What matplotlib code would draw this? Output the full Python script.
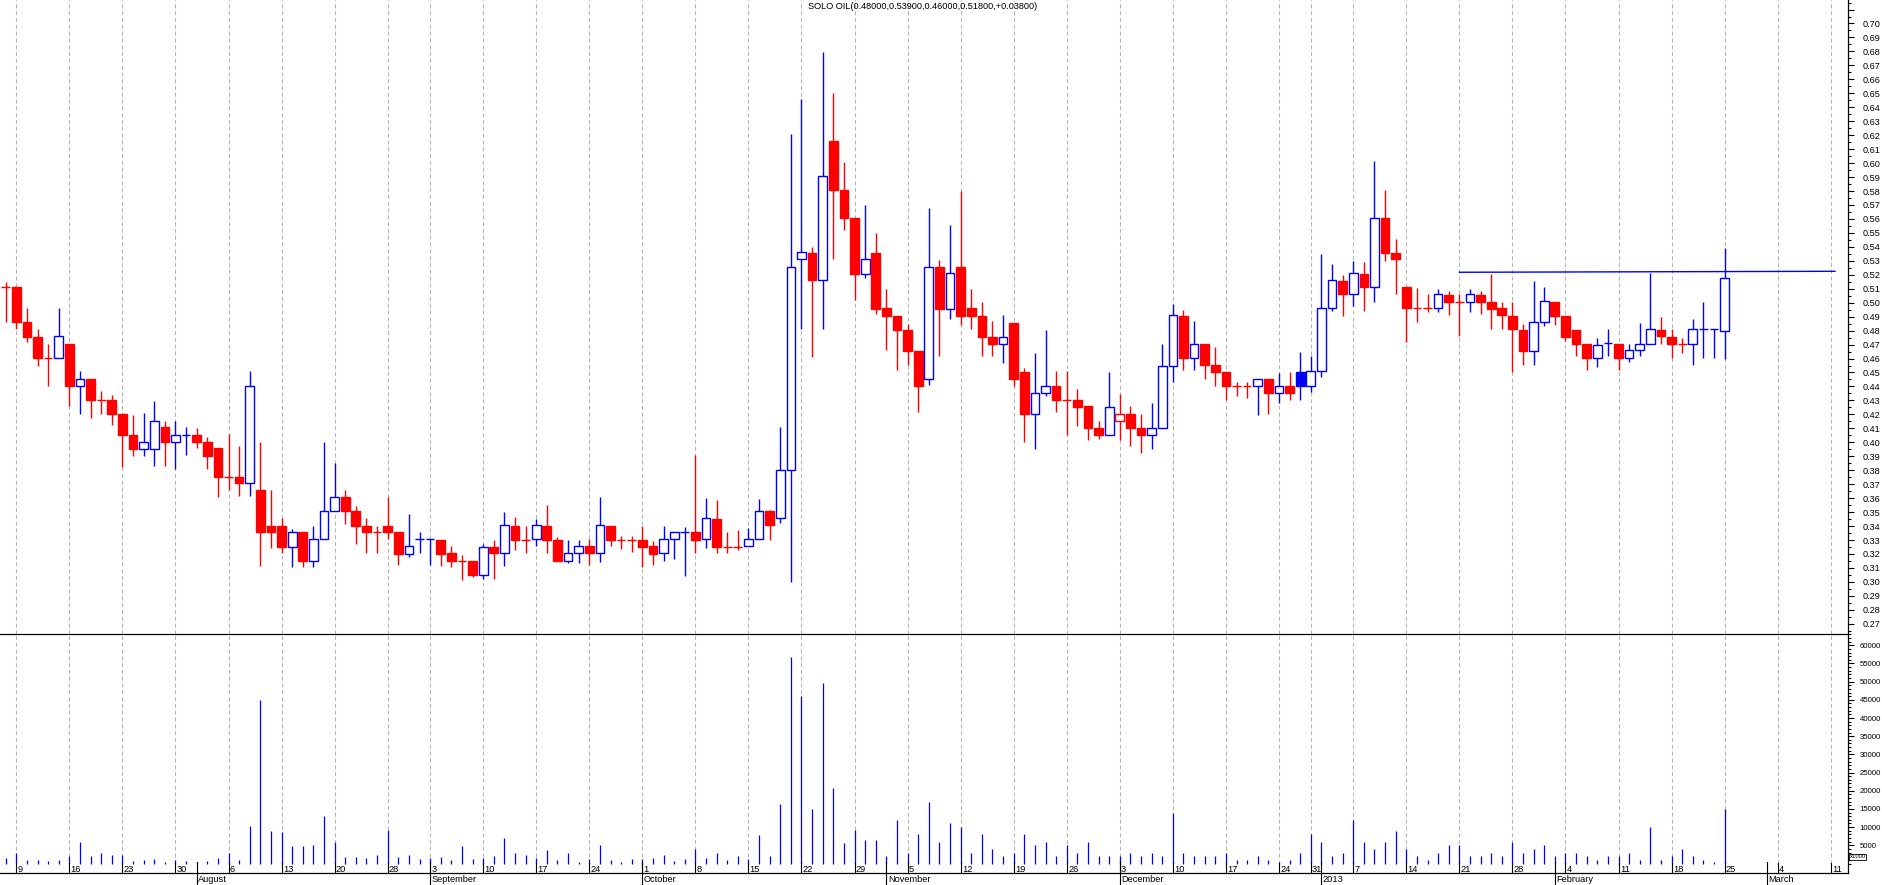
import matplotlib
matplotlib.use('Agg')
import matplotlib.pyplot as plt
import matplotlib.transforms as mtransforms
from matplotlib import font_manager as fm
from matplotlib.lines import Line2D
from matplotlib.patches import Rectangle
from matplotlib.ticker import FixedLocator, FuncFormatter
import numpy as np
import pandas as pd

plt.rcParams['font.family'] = ['Liberation Sans', 'DejaVu Sans']
plt.rcParams['lines.scale_dashes'] = False

TITLE = "SOLO OIL(0.48000,0.53900,0.46000,0.51800,+0.03800)"
HOLIDAYS = ['2012-08-27', '2012-12-25', '2012-12-26', '2013-01-01']
START = '2012-07-06'
AXIS_END = '2013-03-15'
MONTH_NAMES = ['January', 'February', 'March', 'April', 'May', 'June', 'July',
               'August', 'September', 'October', 'November', 'December']

opens = [
    0.5115, 0.5115, 0.486, 0.4755, 0.4605, 0.4605, 0.4705, 0.4405, 0.4455, 0.4305,
    0.4305, 0.4205, 0.4055, 0.3955, 0.3955, 0.411, 0.4005, 0.4055, 0.4055, 0.4005,
    0.396, 0.3755, 0.3755, 0.3705, 0.366, 0.340, 0.340, 0.325, 0.3355, 0.315,
    0.3305, 0.3505, 0.3605, 0.3505, 0.340, 0.3355, 0.340, 0.3355, 0.320, 0.3305,
    0.3305, 0.330, 0.3205, 0.315, 0.315, 0.305, 0.325, 0.3205, 0.340, 0.330,
    0.3305, 0.340, 0.330, 0.315, 0.3205, 0.3255, 0.3205, 0.340, 0.330, 0.330,
    0.330, 0.3255, 0.3205, 0.3305, 0.3355, 0.3355, 0.3305, 0.345, 0.325, 0.325,
    0.3255, 0.3305, 0.3505, 0.3455, 0.3805, 0.531, 0.5355, 0.516, 0.6155, 0.5805,
    0.5605, 0.5205, 0.5355, 0.496, 0.4905, 0.4805, 0.4655, 0.4455, 0.5255, 0.4955,
    0.5255, 0.496, 0.4905, 0.4755, 0.4705, 0.4855, 0.4505, 0.4205, 0.4355, 0.440,
    0.4305, 0.4305, 0.426, 0.4105, 0.4055, 0.4155, 0.4205, 0.4105, 0.4055, 0.4105,
    0.455, 0.4905, 0.4605, 0.4705, 0.4555, 0.4505, 0.4405, 0.4405, 0.440, 0.445,
    0.435, 0.440, 0.4505, 0.440, 0.451, 0.496, 0.5155, 0.506, 0.5205, 0.511,
    0.5605, 0.5355, 0.511, 0.496, 0.496, 0.496, 0.5055, 0.5005, 0.5005, 0.5055,
    0.5005, 0.496, 0.4905, 0.4805, 0.4655, 0.486, 0.5005, 0.4905, 0.4805, 0.4705,
    0.4605, 0.471, 0.4705, 0.4605, 0.466, 0.4705, 0.4805, 0.4755, 0.4705, 0.4705,
    0.481, 0.481, 0.480]

highs = [
    0.515, 0.5115, 0.496, 0.481, 0.4705, 0.496, 0.4705, 0.451, 0.4455, 0.4365,
    0.434, 0.4205, 0.4195, 0.421, 0.4295, 0.4155, 0.4155, 0.411, 0.410, 0.4035,
    0.396, 0.406, 0.397, 0.451, 0.400, 0.366, 0.346, 0.338, 0.3355, 0.340,
    0.400, 0.3855, 0.366, 0.3545, 0.346, 0.340, 0.361, 0.3355, 0.3485, 0.3355,
    0.3305, 0.330, 0.3255, 0.319, 0.315, 0.327, 0.330, 0.350, 0.3465, 0.340,
    0.345, 0.355, 0.332, 0.330, 0.330, 0.3305, 0.361, 0.340, 0.333, 0.333,
    0.340, 0.329, 0.340, 0.3355, 0.339, 0.391, 0.360, 0.3585, 0.3355, 0.337,
    0.3385, 0.3595, 0.3515, 0.411, 0.621, 0.646, 0.540, 0.6795, 0.650, 0.601,
    0.5605, 0.570, 0.550, 0.510, 0.4905, 0.4845, 0.4655, 0.568, 0.5305, 0.5555,
    0.580, 0.510, 0.5005, 0.487, 0.491, 0.4855, 0.453, 0.464, 0.4805, 0.451,
    0.451, 0.438, 0.426, 0.4155, 0.4505, 0.4345, 0.426, 0.4205, 0.428, 0.4705,
    0.499, 0.495, 0.487, 0.4705, 0.4685, 0.4505, 0.4435, 0.4435, 0.4455, 0.445,
    0.4495, 0.450, 0.465, 0.462, 0.535, 0.528, 0.520, 0.530, 0.5295, 0.6015,
    0.581, 0.5455, 0.511, 0.5105, 0.506, 0.510, 0.5085, 0.506, 0.5095, 0.5085,
    0.5205, 0.5005, 0.5005, 0.485, 0.5155, 0.511, 0.5005, 0.4905, 0.4805, 0.4705,
    0.4745, 0.481, 0.4705, 0.4705, 0.4855, 0.521, 0.490, 0.481, 0.475, 0.488,
    0.5005, 0.481, 0.539]

lows = [
    0.486, 0.481, 0.472, 0.455, 0.4405, 0.4605, 0.426, 0.4205, 0.4175, 0.4205,
    0.4125, 0.382, 0.3905, 0.3905, 0.383, 0.383, 0.381, 0.391, 0.396, 0.381,
    0.361, 0.366, 0.3615, 0.3615, 0.3115, 0.324, 0.321, 0.311, 0.311, 0.311,
    0.3305, 0.3505, 0.3415, 0.3275, 0.321, 0.321, 0.3305, 0.312, 0.3175, 0.321,
    0.312, 0.3115, 0.311, 0.3015, 0.3035, 0.302, 0.302, 0.3115, 0.3225, 0.321,
    0.326, 0.321, 0.315, 0.3135, 0.3135, 0.312, 0.3145, 0.326, 0.3235, 0.3215,
    0.311, 0.312, 0.315, 0.3165, 0.3045, 0.321, 0.324, 0.321, 0.321, 0.3225,
    0.3255, 0.3305, 0.330, 0.3425, 0.300, 0.4815, 0.461, 0.4815, 0.531, 0.552,
    0.502, 0.518, 0.492, 0.466, 0.452, 0.4555, 0.4215, 0.441, 0.462, 0.488,
    0.484, 0.481, 0.462, 0.462, 0.457, 0.4405, 0.400, 0.395, 0.4335, 0.4215,
    0.405, 0.412, 0.4015, 0.4025, 0.4055, 0.4015, 0.397, 0.3925, 0.395, 0.4105,
    0.4435, 0.4515, 0.452, 0.4455, 0.4405, 0.430, 0.4335, 0.4315, 0.4195, 0.420,
    0.4285, 0.430, 0.430, 0.436, 0.4465, 0.494, 0.4905, 0.4975, 0.494, 0.5005,
    0.530, 0.506, 0.4715, 0.4865, 0.493, 0.4935, 0.4915, 0.4765, 0.493, 0.492,
    0.481, 0.481, 0.4505, 0.4555, 0.4555, 0.483, 0.484, 0.4725, 0.462, 0.4515,
    0.454, 0.4615, 0.452, 0.4575, 0.462, 0.4705, 0.4705, 0.4605, 0.464, 0.4555,
    0.4605, 0.4605, 0.460]

closes = [
    0.5115, 0.486, 0.4755, 0.4605, 0.4605, 0.476, 0.4405, 0.4455, 0.4305, 0.4305,
    0.4205, 0.4055, 0.3955, 0.4005, 0.4155, 0.4005, 0.4055, 0.4055, 0.4005, 0.3905,
    0.3755, 0.3755, 0.3705, 0.440, 0.3355, 0.3355, 0.325, 0.3355, 0.315, 0.3305,
    0.3505, 0.3605, 0.3505, 0.340, 0.3355, 0.3355, 0.3355, 0.320, 0.3255, 0.3305,
    0.3305, 0.320, 0.315, 0.315, 0.305, 0.325, 0.3205, 0.3405, 0.330, 0.330,
    0.3405, 0.330, 0.315, 0.3205, 0.3255, 0.3205, 0.3405, 0.330, 0.330, 0.330,
    0.325, 0.320, 0.3305, 0.3355, 0.3355, 0.330, 0.3455, 0.325, 0.325, 0.325,
    0.3305, 0.3505, 0.3405, 0.3805, 0.5255, 0.536, 0.516, 0.591, 0.5805, 0.561,
    0.5205, 0.531, 0.4955, 0.4905, 0.4805, 0.4655, 0.4405, 0.5255, 0.4955, 0.521,
    0.4905, 0.4905, 0.4755, 0.4705, 0.4755, 0.4455, 0.4205, 0.4355, 0.440, 0.4305,
    0.4305, 0.4255, 0.4105, 0.4055, 0.4255, 0.4205, 0.4105, 0.4055, 0.4105, 0.455,
    0.491, 0.4605, 0.4705, 0.4555, 0.4505, 0.4405, 0.4405, 0.4405, 0.4455, 0.435,
    0.440, 0.435, 0.4405, 0.451, 0.496, 0.516, 0.506, 0.521, 0.511, 0.561,
    0.5355, 0.531, 0.496, 0.496, 0.496, 0.506, 0.5005, 0.5005, 0.506, 0.5005,
    0.4955, 0.491, 0.481, 0.4655, 0.486, 0.501, 0.4905, 0.4755, 0.4705, 0.4605,
    0.470, 0.471, 0.4605, 0.466, 0.4705, 0.481, 0.476, 0.4705, 0.4705, 0.481,
    0.481, 0.481, 0.518]

volumes = [
    1450, 2810, 1090, 1090, 820, 1090, 2180, 5820, 2180, 2810,
    2460, 2460, 820, 1090, 1365, 360, 1090, 820, 360, 630,
    1640, 2810, 1090, 10190, 45060, 9010, 8740, 4920, 4920, 5190,
    13110, 5820, 1910, 1910, 1640, 2460, 9280, 1910, 2460, 1270,
    1540, 1910, 1090, 4920, 1270, 1640, 2180, 7100, 3000, 2460,
    1640, 3820, 1090, 3000, 550, 1365, 5190, 1090, 300, 1365,
    1365, 1640, 2460, 820, 1365, 4100, 1640, 3000, 1090, 2180,
    1365, 7920, 2180, 16380, 56800, 46150, 15020, 49700, 20750, 5730,
    9280, 6550, 6550, 2000, 12000, 3000, 8000, 17000, 6000, 11000,
    10000, 3000, 8000, 4000, 2000, 3000, 8000, 5000, 6000, 2000,
    5000, 3000, 6000, 2000, 2000, 2000, 3000, 2000, 3000, 2000,
    14000, 3000, 2000, 2000, 2000, 3000, 1000, 1000, 2000, 1000,
    500, 1000, 3000, 8000, 6000, 2000, 3000, 12000, 6000, 4000,
    6000, 9000, 4000, 2000, 1000, 3000, 5000, 5000, 2000, 2000,
    3000, 2000, 6000, 3000, 4000, 5000, 2000, 3000, 3000, 2000,
    1000, 2000, 2000, 3000, 1000, 10000, 1000, 2000, 4000, 2000,
    1000, 300, 15000]

trend_x = [137, 172.4]
trend_y = [0.5218, 0.5225]

# ---------------------------------------------------------------------------
W, H = 1883, 885
RED, BLUE = '#ff0000', '#0000ff'
GRID = '#b4b4b4'

font_names = {f.name for f in fm.fontManager.ttflist}
if 'Liberation Sans Narrow' in font_names:
    TICK_FAMILY = ['Liberation Sans Narrow', 'DejaVu Sans']
    P_SIZE, V_SIZE = 6.8, 6.8
else:
    TICK_FAMILY = ['Liberation Sans', 'DejaVu Sans']
    P_SIZE, V_SIZE = 6.6, 5.6

cal = pd.bdate_range(START, AXIS_END, freq='C', holidays=HOLIDAYS)
n = len(closes)
idx = np.arange(n)

colors = []
for i in range(n):
    if i == 0:
        colors.append(RED)
    elif closes[i] > closes[i - 1]:
        colors.append(BLUE)
    elif closes[i] < closes[i - 1]:
        colors.append(RED)
    else:
        colors.append(colors[-1])

fig = plt.figure(figsize=(W / 100, H / 100), dpi=100)


def fy(y):
    return 1 - y / H


AX_RIGHT = 1847.7
XMIN, XMAX = -0.537, 173.6
axp = fig.add_axes([0, fy(634), AX_RIGHT / W, 634 / H])
axv = fig.add_axes([0, fy(873), AX_RIGHT / W, (873 - 634) / H])

P_LO, P_HI = 0.26268, 0.71683
V_LO, V_HI = -2612, 63107
axp.set_xlim(XMIN, XMAX)
axp.set_ylim(P_LO, P_HI)
axv.set_xlim(XMIN, XMAX)
axv.set_ylim(V_LO, V_HI)

for ax in (axp, axv):
    ax.patch.set_visible(False)
    ax.set_xticks([])
    for s in ('left', 'top', 'bottom'):
        ax.spines[s].set_visible(False)
    ax.spines['right'].set_linewidth(0.9)
    ax.yaxis.tick_right()
    ax.tick_params(axis='y', which='major', direction='out', length=4.1,
                   width=0.8, colors='black')
    ax.tick_params(axis='y', which='minor', direction='out', length=2.2,
                   width=0.8)
axv.spines['top'].set_visible(True)
axv.spines['top'].set_linewidth(0.9)
axv.spines['bottom'].set_visible(True)
axv.spines['bottom'].set_linewidth(0.9)

axp.tick_params(axis='y', which='major', pad=6.6, labelsize=P_SIZE)
axv.tick_params(axis='y', which='major', pad=4.4, labelsize=V_SIZE)

# price axis ticks
pmaj = np.round(np.arange(0.27, 0.7151, 0.01), 3)
pmin = np.round(np.arange(0.265, 0.7151, 0.01), 3)
axp.yaxis.set_major_locator(FixedLocator(pmaj))
axp.yaxis.set_minor_locator(FixedLocator(pmin))
axp.yaxis.set_major_formatter(FuncFormatter(lambda v, p: '' if v > 0.705 else f'{v:.2f}'))

vmaj = np.arange(5000, 60001, 5000)
vmin = np.arange(0, 63001, 1000)
axv.yaxis.set_major_locator(FixedLocator(vmaj))
axv.yaxis.set_minor_locator(FixedLocator(vmin))
axv.yaxis.set_major_formatter(FuncFormatter(lambda v, p: f'{int(v)}'))

for ax in (axp, axv):
    for lab in ax.get_yticklabels():
        lab.set_family(TICK_FAMILY)

# week / month positions from the trading calendar
week_pos, week_lab, month_pos, month_lab = [], [], [], []
for i in range(1, len(cal)):
    if i > XMAX:
        break
    d, pd_ = cal[i], cal[i - 1]
    if d.isocalendar()[1] != pd_.isocalendar()[1]:
        week_pos.append(i)
        week_lab.append(str(d.day))
    if d.month != pd_.month:
        month_pos.append(i)
        month_lab.append(str(d.year) if d.month == 1 else MONTH_NAMES[d.month - 1])

dash = (0, (2.9, 2.0))
axp.vlines(week_pos, P_LO, P_HI, colors=GRID, linewidth=0.75, linestyles=dash, zorder=1)
axv.vlines(week_pos, 0, V_HI, colors=GRID, linewidth=0.75, linestyles=dash, zorder=1)

# candles
BW = 0.82
for i in idx:
    o, h, l, c = opens[i], highs[i], lows[i], closes[i]
    col = colors[i]
    axp.vlines(i, l, h, colors=col, linewidth=1.0, zorder=2)
    if o == c:
        axp.hlines(c, i - BW / 2, i + BW / 2, colors=col, linewidth=1.0, zorder=3)
    else:
        lo, hi = min(o, c), max(o, c)
        fc = col if c < o else 'white'
        axp.add_patch(Rectangle((i - BW / 2, lo), BW, hi - lo, facecolor=fc,
                                edgecolor=col, linewidth=1.0, zorder=3))

axp.plot(trend_x, trend_y, color=BLUE, linewidth=1.0, zorder=4)

# volume
axv.vlines(idx, 0, volumes, colors=BLUE, linewidth=0.9, zorder=2)

# x-axis labels and ticks
blend = mtransforms.blended_transform_factory(axv.transData, fig.transFigure)
for p, lab in zip(week_pos, week_lab):
    fig.add_artist(Line2D([p, p], [fy(862.5), fy(873)], transform=blend,
                          color='black', linewidth=0.8, clip_on=False))
    fig.text(p + 0.12, fy(869.0), lab, transform=blend, ha='left', va='center',
             fontsize=6.7, family=TICK_FAMILY)
for p, lab in zip(month_pos, month_lab):
    fig.add_artist(Line2D([p, p], [fy(861.5), fy(885)], transform=blend,
                          color='black', linewidth=0.8, clip_on=False))
    fig.text(p + 0.15, fy(879.4), lab, transform=blend, ha='left', va='center',
             fontsize=6.7, family=TICK_FAMILY)

fig.text(923 / W, fy(6.5), TITLE, ha='center', va='center', fontsize=6.6)
fig.text(1849.5 / W, fy(857), 'x1000', ha='left', va='center', fontsize=4.2,
         bbox=dict(boxstyle='square,pad=0.15', fc='white', ec='black', lw=0.6))

fig.savefig('out.png', dpi=100)
